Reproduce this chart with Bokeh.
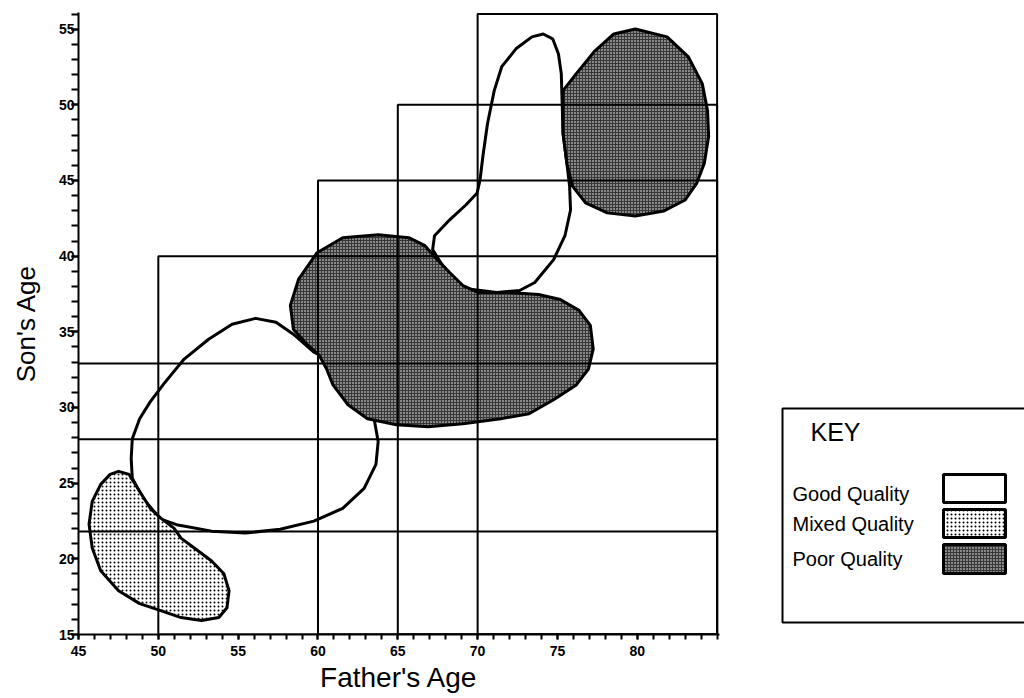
from bokeh.plotting import figure
from bokeh.layouts import row
from bokeh.models import Range1d, FixedTicker
from bokeh.core.properties import value
from bokeh.embed import file_html
from bokeh.resources import INLINE

FONT = "Liberation Sans"

# ---------------- data ----------------
x_major_ticks = [45, 50, 55, 60, 65, 70, 75, 80]
x_minor_ticks = list(range(45, 86))
y_major_ticks = [15, 20, 25, 30, 35, 40, 45, 50, 55]
y_minor_ticks = list(range(15, 57))

# nested age rectangles (left edge = father's age, top = son's age)
rect_left = [50, 60, 65, 70]
rect_top = [40, 45, 50, 56]
rect_right = [85, 85, 85, 85]
rect_bottom = [15, 15, 15, 15]

# horizontal reference lines (son's age)
hline_y = [32.9, 27.9, 21.8]
hline_x0 = [45, 45, 45]
hline_x1 = [85, 85, 85]

# region outlines (father's age, son's age)
good_lower_x = [56.09, 57.37, 58.46, 59.74, 61.08, 62.09, 63.43, 63.57, 63.77, 63.63, 62.89, 61.55, 59.74, 57.63,
                55.45, 53.34, 51.23, 50.15, 49.03, 48.37, 48.30, 48.37, 48.83, 49.49, 50.34, 51.62, 53.15, 54.62]
good_lower_y = [35.89, 35.63, 34.84, 33.66, 33.00, 31.36, 29.72, 28.93, 27.75, 26.24, 24.66, 23.34, 22.49, 21.96,
                21.70, 21.83, 22.23, 22.62, 24.00, 25.32, 26.63, 27.94, 29.26, 30.37, 31.56, 33.20, 34.51, 35.50]

mixed_x = [47.51, 48.17, 48.83, 49.49, 50.15, 50.98, 51.42, 52.25, 53.34, 54.11, 54.43, 54.30, 53.79, 52.70,
           51.42, 50.15, 48.83, 47.51, 46.39, 45.86, 45.66, 45.86, 46.39, 46.98]
mixed_y = [25.78, 25.58, 24.46, 23.34, 22.69, 22.03, 21.37, 20.72, 19.86, 19.01, 17.89, 16.77, 16.12, 15.92,
           16.12, 16.58, 17.04, 17.89, 19.21, 20.72, 22.29, 23.80, 24.92, 25.58]

good_upper_x = [74.11, 74.70, 75.06, 75.24, 75.29, 75.35, 75.59, 75.76, 75.82, 75.47, 74.76, 73.58, 72.63, 71.21,
                68.66, 67.18, 67.30, 68.25, 69.26, 69.97, 70.15, 70.33, 70.62, 71.04, 71.51, 72.40, 73.40]
good_upper_y = [54.68, 54.36, 53.37, 52.06, 50.28, 48.11, 46.14, 44.63, 43.05, 41.35, 39.77, 38.26, 37.73, 37.60,
                37.93, 40.43, 41.35, 42.40, 43.38, 44.17, 45.03, 46.60, 48.77, 50.94, 52.52, 53.70, 54.49]

poor_mid_x = [63.77, 61.55, 59.94, 58.78, 58.27, 58.46, 59.29, 60.07, 60.54, 60.94, 61.88, 63.10, 64.91, 66.88,
              69.08, 71.45, 73.22, 74.76, 76.18, 76.94, 77.24, 77.06, 76.35, 75.18, 73.82, 71.80, 70.03, 69.08,
              68.25, 67.48, 66.70, 65.69]
poor_mid_y = [41.41, 41.22, 40.23, 38.46, 36.75, 35.17, 34.19, 33.46, 32.54, 31.49, 30.18, 29.26, 28.86, 28.73,
              28.93, 29.26, 29.59, 30.51, 31.49, 32.54, 33.86, 35.43, 36.42, 37.14, 37.47, 37.60, 37.60, 38.06,
              38.92, 39.77, 40.69, 41.22]

poor_upper_x = [79.88, 81.87, 83.20, 84.07, 84.40, 84.47, 84.20, 83.73, 83.00, 81.67, 79.88, 78.12, 76.76, 75.94,
                75.59, 75.35, 75.35, 75.35, 76.18, 77.35, 78.53]
poor_upper_y = [55.01, 54.49, 53.17, 51.40, 49.63, 47.92, 46.14, 44.83, 43.71, 42.99, 42.66, 42.86, 43.52, 44.63,
                46.14, 48.11, 49.89, 50.94, 52.06, 53.57, 54.68]

key_labels = ["Good Quality", "Mixed Quality", "Poor Quality"]

# ---------------- styles ----------------
GOOD = dict(fill_color="white", hatch_pattern=None)
MIXED = dict(fill_color="white", hatch_pattern="dot", hatch_color="black", hatch_scale=4, hatch_weight=1)
POOR = dict(fill_color="#383838", hatch_pattern="dot", hatch_color="white", hatch_scale=3, hatch_weight=1)

BT, BB = 12, 62  # shared top / bottom borders so both panels align

# ---------------- main chart ----------------
p = figure(width=725, height=696, output_backend="svg", toolbar_location=None,
           x_range=Range1d(45, 85.15), y_range=Range1d(15, 56.1),
           min_border_left=78, min_border_right=6, min_border_top=BT, min_border_bottom=BB)
p.grid.visible = False
p.outline_line_color = None
p.background_fill_color = "white"

blob_style = dict(line_color="black", line_width=3, line_join="round")
p.patch(good_lower_x, good_lower_y, **blob_style, **GOOD)
p.patch(mixed_x, mixed_y, **blob_style, **MIXED)
p.patch(good_upper_x, good_upper_y, **blob_style, **GOOD)
p.patch(poor_mid_x, poor_mid_y, **blob_style, **POOR)
p.patch(poor_upper_x, poor_upper_y, **blob_style, **POOR)

p.segment(x0=hline_x0, y0=hline_y, x1=hline_x1, y1=hline_y, line_color="black", line_width=2)
p.quad(left=rect_left, right=rect_right, bottom=rect_bottom, top=rect_top,
       fill_color=None, line_color="black", line_width=2)

p.xaxis.ticker = FixedTicker(ticks=x_major_ticks, minor_ticks=x_minor_ticks)
p.yaxis.ticker = FixedTicker(ticks=y_major_ticks, minor_ticks=y_minor_ticks)
p.xaxis.axis_label = "Father's Age"
p.yaxis.axis_label = "Son's Age"
for ax in (p.xaxis, p.yaxis):
    ax.axis_line_width = 2
    ax.axis_line_color = "black"
    ax.major_tick_in = 0
    ax.minor_tick_in = 0
    ax.major_tick_line_width = 2
    ax.minor_tick_line_width = 2
    ax.major_tick_line_color = "black"
    ax.minor_tick_line_color = "black"
    ax.major_label_text_font = FONT
    ax.major_label_text_font_size = "14px"
    ax.major_label_text_font_style = "bold"
    ax.major_label_text_color = "black"
    ax.axis_label_text_font = FONT
    ax.axis_label_text_font_style = "normal"
    ax.axis_label_text_color = "black"
p.xaxis.axis_label_text_font_size = "28px"
p.yaxis.axis_label_text_font_size = "26px"
p.xaxis.major_tick_out = 5
p.xaxis.minor_tick_out = 5
p.xaxis.major_label_standoff = 6
p.xaxis.axis_label_standoff = 3
p.yaxis.major_tick_out = 7
p.yaxis.minor_tick_out = 7
p.yaxis.major_label_standoff = -3
p.yaxis.axis_label_standoff = 15

# ---------------- key panel (coordinates in page pixels) ----------------
k = figure(width=299, height=696, output_backend="svg", toolbar_location=None,
           x_range=Range1d(725, 1024), y_range=Range1d(634, 12),
           x_axis_location=None, y_axis_location=None,
           min_border_left=0, min_border_right=0, min_border_top=BT, min_border_bottom=BB)
k.grid.visible = False
k.outline_line_color = None

k.quad(left=[782], right=[1040], top=[408], bottom=[622], fill_color=None, line_color="black", line_width=2)
k.text(x=[810], y=[431], text=["KEY"], text_font=value(FONT), text_font_size="25px",
       text_baseline="middle", text_align="left", text_color="black")
k.text(x=[792, 792, 792], y=[493, 523, 558], text=key_labels, text_font=value(FONT), text_font_size="20px",
       text_baseline="middle", text_align="left", text_color="black")
sw_top = [474, 509, 544]
sw_bot = [502, 537, 573]
for i, st in enumerate([GOOD, MIXED, POOR]):
    k.quad(left=[943], right=[1005], top=[sw_top[i]], bottom=[sw_bot[i]],
           line_color="black", line_width=3, **st)

layout = row(p, k)
open("out.html", "w").write(file_html(layout, INLINE))
